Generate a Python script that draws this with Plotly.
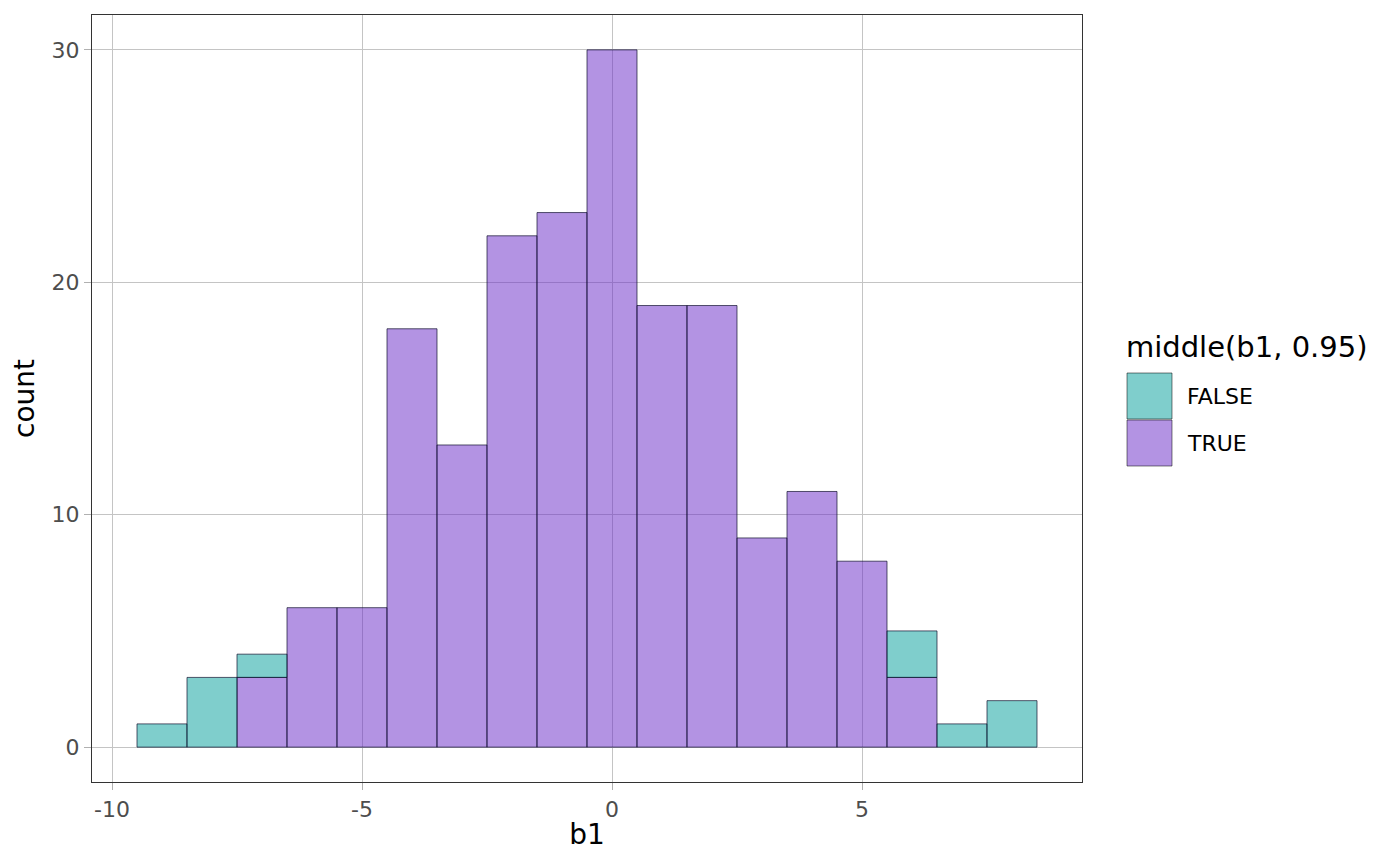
import plotly.graph_objects as go

# histogram of b1, binwidth 1, stacked by middle(b1, 0.95)
bin_centers = [-9, -8, -7, -6, -5, -4, -3, -2, -1, 0, 1, 2, 3, 4, 5, 6, 7, 8]
count_true = [0, 0, 3, 6, 6, 18, 13, 22, 23, 30, 19, 19, 9, 11, 8, 3, 0, 0]
count_false = [1, 3, 1, 0, 0, 0, 0, 0, 0, 0, 0, 0, 0, 0, 0, 2, 1, 2]

x_ticks = [-10, -5, 0, 5]
y_ticks = [0, 10, 20, 30]

teal = "rgba(0,158,153,0.5)"
purple = "rgba(103,39,199,0.5)"
outline = dict(color="rgba(10,10,40,0.85)", width=0.8)

W, H = 1400, 866
ML, MR, MT, MB = 84, 326, 7, 92   # page has an 8px body margin
OFF = 8


def keep(xs, ys):
    # drop empty bins so no zero-height outlines are drawn
    pairs = [(x, y) for x, y in zip(xs, ys) if y > 0]
    return [p[0] for p in pairs], [p[1] for p in pairs]


fig = go.Figure()

# ggplot stacks the first level on top, so TRUE goes down first
xt, yt = keep(bin_centers, count_true)
fig.add_trace(go.Bar(x=xt, y=yt, width=1, marker=dict(color=purple, line=outline),
                     name="TRUE"))

base_false = [t for t, f in zip(count_true, count_false) if f > 0]
xf, yf = keep(bin_centers, count_false)
fig.add_trace(go.Bar(x=xf, y=yf, base=base_false, width=1,
                     marker=dict(color=teal, line=outline), name="FALSE"))

fig.update_layout(
    barmode="overlay",
    width=W,
    height=H,
    margin=dict(l=ML, r=MR, t=MT, b=MB),
    paper_bgcolor="white",
    plot_bgcolor="white",
    font=dict(family="DejaVu Sans", color="black"),
    showlegend=False,
)

axis_common = dict(
    showgrid=True,
    gridcolor="#C4C4C4",
    gridwidth=1,
    zeroline=False,
    showline=True,
    linecolor="#333333",
    linewidth=1.2,
    mirror=True,
    ticks="outside",
    ticklen=7,
    tickcolor="#B0B0B0",
    tickfont=dict(size=22, color="#4D4D4D"),
)

fig.update_xaxes(range=[-10.4, 9.4], tickvals=x_ticks,
                 ticktext=[str(v) for v in x_ticks],
                 title=dict(text="b1", font=dict(size=28), standoff=3),
                 **axis_common)
fig.update_yaxes(range=[-1.5, 31.5], tickvals=y_ticks,
                 title=dict(text="count", font=dict(size=28), standoff=10),
                 **axis_common)

# legend drawn by hand to match ggplot keys
plot_w = W - ML - MR
plot_h = H - MT - MB


def px_x(p):
    return (p - OFF - ML) / plot_w


def px_y(p):
    return (H - MB - (p - OFF)) / plot_h


fig.add_annotation(x=px_x(1124), y=px_y(347), xref="paper", yref="paper",
                   text="middle(b1, 0.95)", showarrow=False,
                   xanchor="left", yanchor="middle",
                   font=dict(size=29, color="black"))

keys = [("FALSE", teal, 373), ("TRUE", purple, 420)]
for label, color, top in keys:
    fig.add_shape(type="rect", xref="paper", yref="paper",
                  x0=px_x(1127), x1=px_x(1172), y0=px_y(top + 46), y1=px_y(top),
                  fillcolor=color, line=dict(color="rgba(0,0,0,0.5)", width=1))
    fig.add_annotation(x=px_x(1185), y=px_y(top + 23), xref="paper", yref="paper",
                       text=label, showarrow=False, xanchor="left", yanchor="middle",
                       font=dict(size=22, color="black"))

fig.write_html("out.html")
